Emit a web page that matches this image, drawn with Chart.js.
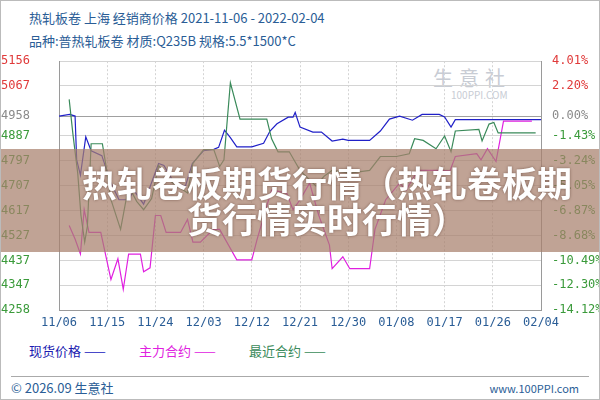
<!DOCTYPE html>
<html>
<head>
<meta charset="utf-8">
<script src="https://cdn.jsdelivr.net/npm/chart.js@4/dist/chart.umd.min.js"></script>
<style>
  body { margin:0; background:#fff; font-family:"Noto Sans CJK SC", sans-serif; }
  #wrap { position:relative; width:598px; height:398px; border:1px solid #bbb; overflow:hidden; }
  .t { position:absolute; left:28px; color:#2a5d96; font-size:13px; white-space:nowrap; }
  #box { position:absolute; left:0; top:50px; width:598px; height:276px; }
  .lg { position:absolute; top:340px; font-size:13px; }
  #banner { position:absolute; left:0; top:148px; width:598px; height:103px; background:rgba(168,128,108,0.72);
            color:#fff; font-weight:bold; font-size:35px; text-align:center; line-height:36px; padding:15px 0 0 54px; box-sizing:border-box;
            text-shadow:0 0 3px rgba(80,50,40,0.6); white-space:nowrap; }
  #wm { position:absolute; left:432px; top:62px; color:#c8ccd4; font-size:20px; letter-spacing:6px; }
  #wm2 { position:absolute; left:450px; top:86px; color:#c8ccd4; font-size:10px; }
</style>
</head>
<body>
<div id="wrap">
  <div class="t" style="top:7px">热轧板卷 上海 经销商价格 2021-11-06 - 2022-02-04</div>
  <div class="t" style="top:30px">品种:普热轧板卷 材质:Q235B 规格:5.5*1500*C</div>
  <div id="wm">生意社</div><div id="wm2">100PPI.COM</div>
  <div id="box"><canvas id="c"></canvas></div>
  <div class="lg" style="left:28px;color:#1a1ab0">现货价格 <span style="color:#2020c0">——</span></div>
  <div class="lg" style="left:138px;color:#e020e0">主力合约 <span>——</span></div>
  <div class="lg" style="left:248px;color:#3a8a5a">最近合约 <span>——</span></div>
  <div style="position:absolute;left:10px;top:375px;width:578px;border-top:1px solid #aaa"></div>
  <div style="position:absolute;left:10px;top:377px;font-size:13px;color:#2a5d96">© 2026.09 生意社</div>
  <div style="position:absolute;right:20px;top:379px;font-size:11px;color:#2a5d96">www.100PPI.com</div>
  <div id="banner">热轧卷板期货行情（热轧卷板期<br>货行情实时行情）</div>
</div>
<script>
// ── Axis labels
const xLabels = ['11/06','11/15','11/24','12/03','12/12','12/21','12/30','01/08','01/17','01/26','02/04'];
const leftTicks  = [5156, 5067, 4958, 4887, 4797, 4707, 4617, 4527, 4437, 4347, 4258];
const rightLabels = ['4.01%','2.20%','0.00%','-1.43%','-3.24%','-5.05%','-6.87%','-8.68%','-10.49%','-12.30%','-14.12%'];

// ── Spot price (现货价格)
const spotDays = [0,2,3,3.3,4,5,6,8,9.7,11.2,13,14,15.8,18.6,19.6,21.5,23.6,24.9,27,28.9,29.8,30.9,32,33.2,36,38.2,39.4,40.7,42.8,43.7,44.1,45,47.4,49,51,53,54,58,60,61.7,63.6,66,67.8,71,72,73.2,74,88.3,90];
const spotVals = [4958,4964,4958,4800,4745,4883,4833,4815,4716,4656,4656,4690,4640,4787,4780,4716,4705,4787,4833,4838,4845,4907,4880,4847,4847,4860,4904,4930,4954,4954,4971,4918,4900,4900,4868,4875,4870,4870,4904,4947,4958,4943,4964,4964,4955,4918,4945,4945,4945];

// ── Main contract (主力合约)
const mainDays = [1.9,3,4,4.7,5.6,7.8,9.7,11,12,13,15.2,15.8,17,18,19,20,22.7,24,25,26.4,28.8,30,33.2,36,37,38.8,39.7,42.5,43.7,45,46.8,48.5,50.5,51,53,54.3,58,59,61,63.6,64.8,67,71,73,74,78,78.8,80,81.6,83,88.3];
const mainVals = [4563,4514,4460,4620,4538,4538,4368,4443,4333,4460,4460,4396,4410,4599,4599,4538,4538,4585,4503,4503,4549,4549,4439,4439,4514,4634,4691,4680,4620,4656,4716,4600,4492,4407,4450,4407,4407,4549,4656,4716,4690,4762,4762,4760,4812,4822,4800,4840,4794,4940,4940];

// ── Nearest contract (最近合约)
const nearDays = [1.9,2.6,3.5,4.1,4.8,5.3,6,8.1,8.7,9.7,11.5,13,14.5,15.8,17.3,18.6,21,24,25,27,28.9,30,30.8,32,33.8,38.8,39.7,40.9,43,45,48,49.5,51,54.3,58,60,63,65.4,66.4,68,70.4,72,73.2,74,78.4,79,80.3,81.2,82,89];
const nearVals = [5018,4893,4751,4599,4503,4560,4858,4858,4787,4656,4549,4705,4650,4620,4660,4780,4720,4680,4787,4837,4837,4776,4800,5078,4947,4947,4876,4829,4829,4762,4705,4741,4762,4752,4762,4812,4812,4822,4876,4870,4840,4886,4829,4904,4910,4868,4929,4935,4897,4897];

const pts = (d, v) => d.map((x, i) => ({ x: x, y: v[i] }));
const tickCol = v => v > 4958 ? '#e03a3a' : (v === 4958 ? '#8a8a8a' : '#3a9a3a');

function line(data, color) {
  return { data: data, borderColor: color, borderWidth: 1.2, pointRadius: 0, tension: 0, fill: false };
}

new Chart(document.getElementById('c'), {
  type: 'line',
  data: {
    datasets: [
      line(pts(nearDays, nearVals), '#3a8a5a'),
      line(pts(mainDays, mainVals), '#e020e0'),
      line(pts(spotDays, spotVals), '#2020c8')
    ]
  },
  options: {
    responsive: true,
    maintainAspectRatio: false,
    animation: false,
    layout: { padding: { top: 6 } },
    plugins: { legend: { display: false }, tooltip: { enabled: false } },
    scales: {
      x: {
        type: 'linear', min: 0, max: 90,
        afterBuildTicks: a => { a.ticks = xLabels.map((_, i) => ({ value: i * 9 })); },
        afterFit: a => { a.height = 17; },
        ticks: { callback: (v, i) => xLabels[i], color: '#2a5d96', font: { size: 12, family: 'DejaVu Sans Mono' }, maxRotation: 0, padding: 6 },
        grid: { color: '#d4d4d4', tickLength: 0 },
        border: { color: '#9a9a9a', dash: [2, 2] }
      },
      y: {
        position: 'left', min: 4258, max: 5156,
        afterBuildTicks: a => { a.ticks = leftTicks.map(v => ({ value: v })); },
        afterFit: a => { a.width = 58; },
        ticks: { callback: v => String(v), color: c => tickCol(c.tick.value), crossAlign: 'far', font: { size: 12, family: 'DejaVu Sans Mono' }, padding: 2 },
        grid: { color: c => c.tick && c.tick.value === 4958 ? '#a0a0a0' : '#d4d4d4', tickLength: 0 },
        border: { color: '#9a9a9a' }
      },
      y2: {
        position: 'right', min: 4258, max: 5156,
        afterBuildTicks: a => { a.ticks = leftTicks.map(v => ({ value: v })); },
        afterFit: a => { a.width = 58; },
        ticks: { callback: (v, i) => rightLabels[i], color: c => tickCol(c.tick.value), font: { size: 12, family: 'DejaVu Sans Mono' }, padding: 3 },
        grid: { display: false },
        border: { color: '#9a9a9a' }
      }
    }
  }
});
</script>
</body>
</html>
